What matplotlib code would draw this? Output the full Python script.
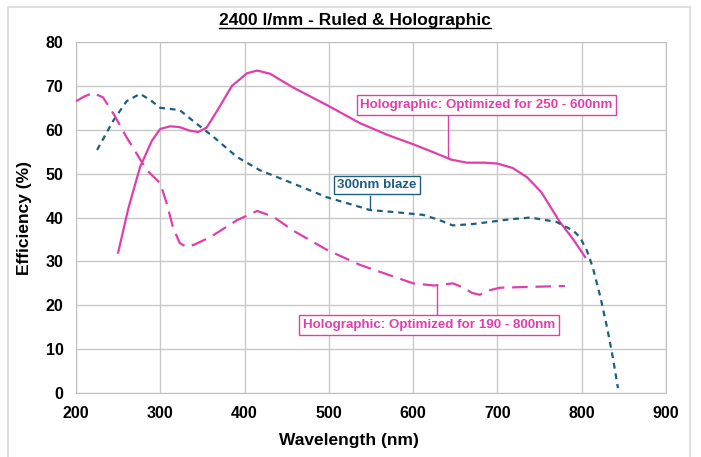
import numpy as np
import matplotlib.pyplot as plt
from matplotlib.patches import Rectangle

plt.rcParams['font.family'] = ['Liberation Sans', 'DejaVu Sans']

# holographic, optimized for 250 - 600nm (solid)
holo1_nm = [250, 262, 276, 290, 300, 312, 323, 335, 345, 355, 368, 385, 403, 415, 430, 457,
            498, 537, 570, 600, 625, 645, 664, 685, 700, 718, 735, 752, 774, 790, 804]
holo1_eff = [32, 42, 51.5, 57.5, 60.2, 60.8, 60.6, 59.8, 59.5, 60.5, 64.5, 70, 72.9, 73.5, 72.8, 69.7,
             65.6, 61.5, 58.8, 56.7, 54.8, 53.2, 52.5, 52.5, 52.3, 51.3, 49.2, 45.8, 39, 35, 31]

# 300nm blaze (ruled, short dash)
blaze_nm = [225, 244, 260, 276, 288, 300, 323, 339, 363, 391, 418, 457, 498, 537, 549, 580,
            612, 630, 647, 670, 691, 715, 739, 770, 790, 798, 806, 813, 822, 830, 837, 843]
blaze_eff = [55.4, 62, 66.5, 68.2, 66.8, 65, 64.5, 62, 58.4, 53.8, 50.8, 47.8, 44.6, 42.4, 41.7, 41.2,
             40.6, 39.5, 38.2, 38.5, 39, 39.6, 40, 39, 37, 35.5, 32.5, 28.7, 22, 15, 8, 1.1]

# holographic, optimized for 190 - 800nm (long dash)
holo2_nm = [200, 210, 220, 232, 245, 260, 284, 300, 308, 315, 323, 331, 340, 359, 391, 415, 434,
            457, 498, 537, 570, 600, 625, 647, 660, 670, 679, 690, 703, 740, 780]
holo2_eff = [66.5, 67.6, 68.4, 67.4, 63.5, 58.3, 50.8, 47.8, 43, 37.8, 34.2, 33.3, 33.8, 35.5, 39.4, 41.5, 40.2,
             37.1, 32.6, 29.2, 27, 25, 24.5, 25, 24, 22.8, 22.4, 23.4, 24, 24.2, 24.4]

pink = '#DE3FAA'
teal = '#1C5F7E'

W, H = 7.01, 4.57
fig = plt.figure(figsize=(W, H), dpi=100)
ax = fig.add_axes([0.1084, 0.140, 0.8417, 0.768])

# outer chart border
fig.patches.append(Rectangle((8/701, -0.1), 682/701, 1.1 - 7/457, transform=fig.transFigure,
                             fill=False, edgecolor='#d9d9d9', lw=1.2))

ax.plot(holo1_nm, holo1_eff, color=pink, lw=1.6, solid_joinstyle='round', zorder=3)
ax.plot(blaze_nm, blaze_eff, color=teal, lw=1.6, dashes=(2.6, 2.2), zorder=3)
ax.plot(holo2_nm, holo2_eff, color=pink, lw=1.6, dashes=(7, 3.5), zorder=3)

ax.set_xlim(200, 900)
ax.set_ylim(0, 80)
ax.set_xticks(np.arange(200, 901, 100))
ax.set_yticks(np.arange(0, 81, 10))
ax.grid(True, color='#c8c8c8', lw=1.0)
ax.set_axisbelow(True)
for s in ax.spines.values():
    s.set_color('#c0c0c0')
ax.tick_params(length=0, pad=9, labelsize=11.5)
for lab in ax.get_xticklabels() + ax.get_yticklabels():
    lab.set_fontweight('bold')

ax.set_ylabel('Efficiency (%)', fontsize=12.5, fontweight='bold', labelpad=10)
fig.text(349/701, 1 - 440/457, 'Wavelength (nm)', fontsize=12.5, fontweight='bold',
         ha='center', va='center')
t = fig.text(355/701, 1 - 21/457, '2400 l/mm - Ruled & Holographic', fontsize=12.5,
             fontweight='bold', ha='center', va='center')

# underline title
fig.canvas.draw()
bb = t.get_window_extent()
fig.add_artist(plt.Line2D([bb.x0 / fig.dpi / W, bb.x1 / fig.dpi / W],
                          [(bb.y0 + 1) / fig.dpi / H] * 2, color='black', lw=1.0))

# annotations with leader lines
ax.plot([641, 641], [53.8, 63.3], color=pink, lw=1.0, zorder=2)
ax.text(687, 65.6, 'Holographic: Optimized for 250 - 600nm', color=pink, fontsize=9.6,
        fontweight='bold', ha='center', va='center', zorder=4,
        bbox=dict(boxstyle='square,pad=0.28', fc='white', ec=pink, lw=1.0))

ax.plot([549, 549], [41.9, 45], color=teal, lw=1.0, zorder=2)
ax.text(557, 47.4, '300nm blaze', color=teal, fontsize=9.6,
        fontweight='bold', ha='center', va='center', zorder=4,
        bbox=dict(boxstyle='square,pad=0.25', fc='white', ec=teal, lw=1.0))

ax.plot([628, 628], [24.6, 17.6], color=pink, lw=1.0, zorder=2)
ax.text(619, 15.5, 'Holographic: Optimized for 190 - 800nm', color=pink, fontsize=9.6,
        fontweight='bold', ha='center', va='center', zorder=4,
        bbox=dict(boxstyle='square,pad=0.28', fc='white', ec=pink, lw=1.0))

fig.savefig('out.png', dpi=100)
